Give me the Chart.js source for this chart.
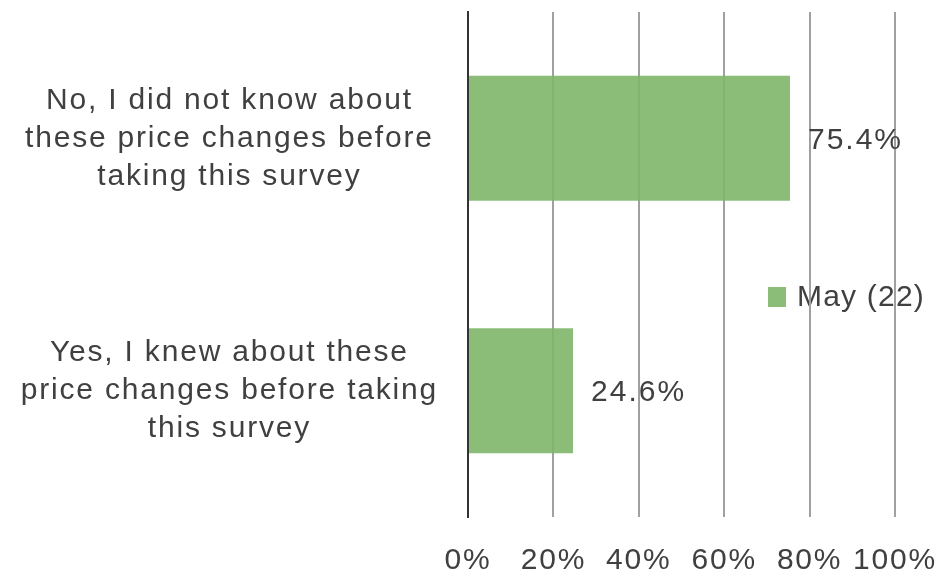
<!DOCTYPE html>
<html>
<head>
<meta charset="utf-8">
<script src="https://cdn.jsdelivr.net/npm/chart.js@4/dist/chart.umd.min.js"></script>
<style>
  html, body { margin: 0; padding: 0; background: #ffffff; }
  #wrap { width: 946px; height: 581px; }
</style>
</head>
<body>
<div id="wrap"><canvas id="c" width="946" height="581"></canvas></div>
<script>
const categories = [
  ["No, I did not know about", "these price changes before", "taking this survey"],
  ["Yes, I knew about these", "price changes before taking", "this survey"]
];
const seriesName = "May (22)";
const seriesValues = [75.4, 24.6];
const tickValues = [0, 20, 40, 60, 80, 100];

const FONT = "'Liberation Sans', Arial, sans-serif";
const TEXT = '#404040';
const BAR = 'rgba(126,182,105,0.9)';

const spacingPlugin = {
  id: 'spacing',
  beforeLayout(chart) { chart.ctx.letterSpacing = '1.8px'; },
  beforeDraw(chart) { chart.ctx.letterSpacing = '1.8px'; }
};

const legendPlugin = {
  id: 'insideLegend',
  beforeDraw(chart) {
    const ctx = chart.ctx;
    const ca = chart.chartArea;
    const ds = chart.data.datasets[0];
    const x = ca.right - 127;
    const y = ca.top + 285;
    ctx.save();
    ctx.fillStyle = ds.backgroundColor;
    ctx.fillRect(x, y - 10, 18, 20);
    ctx.fillStyle = TEXT;
    ctx.font = '30px ' + FONT;
    ctx.letterSpacing = '1.2px';
    ctx.textAlign = 'left';
    ctx.textBaseline = 'middle';
    ctx.fillText(ds.label, x + 29, y + 1);
    ctx.restore();
  }
};

const valueLabelPlugin = {
  id: 'valueLabels',
  afterDatasetsDraw(chart) {
    const ctx = chart.ctx;
    const meta = chart.getDatasetMeta(0);
    const data = chart.data.datasets[0].data;
    ctx.save();
    ctx.fillStyle = TEXT;
    ctx.font = '30px ' + FONT;
    ctx.letterSpacing = '2px';
    ctx.textAlign = 'left';
    ctx.textBaseline = 'middle';
    meta.data.forEach((bar, i) => {
      ctx.fillText(data[i].toFixed(1) + '%', bar.x + 18, bar.y + 2);
    });
    ctx.restore();
  }
};

new Chart(document.getElementById('c'), {
  type: 'bar',
  data: {
    labels: categories,
    datasets: [{
      label: seriesName,
      data: seriesValues,
      backgroundColor: BAR,
      borderWidth: 0,
      categoryPercentage: 1.0,
      barPercentage: 0.495
    }]
  },
  options: {
    indexAxis: 'y',
    responsive: false,
    animation: false,
    layout: { padding: { top: 12, right: 51, bottom: 0, left: 0 } },
    plugins: {
      legend: { display: false },
      tooltip: { enabled: false }
    },
    scales: {
      x: {
        min: 0,
        max: 100,
        afterBuildTicks(scale) { scale.ticks = tickValues.map(v => ({ value: v })); },
        afterFit(scale) {
          scale.height = 64;
          scale.paddingLeft = 0; scale.paddingRight = 0;
        },
        border: { display: false },
        grid: {
          drawTicks: false,
          tickLength: 0,
          lineWidth: 2,
          color: (c) => (c.tick && c.tick.value === 0) ? 'rgba(0,0,0,0)' : '#a0a0a0'
        },
        ticks: {
          autoSkip: false,
          padding: 26,
          color: TEXT,
          font: { family: FONT, size: 30 },
          callback: (v) => v + '%',
          maxRotation: 0,
          minRotation: 0
        }
      },
      y: {
        afterFit(scale) {
          scale.width = 468;
          scale.paddingTop = 0; scale.paddingBottom = 0;
        },
        border: { display: true, color: '#333333', width: 2 },
        grid: { display: false, drawTicks: false, tickLength: 0 },
        ticks: {
          crossAlign: 'center',
          padding: 30,
          color: TEXT,
          font: { family: FONT, size: 30, lineHeight: 1.267 }
        }
      }
    }
  },
  plugins: [spacingPlugin, legendPlugin, valueLabelPlugin]
});
</script>
</body>
</html>
